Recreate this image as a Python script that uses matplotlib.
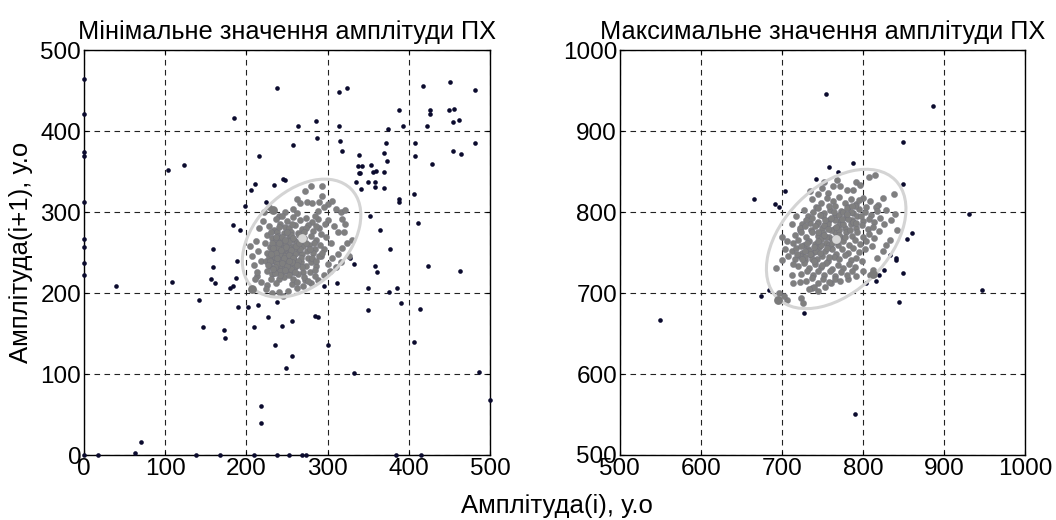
import numpy as np
import matplotlib.pyplot as plt
from matplotlib.patches import Ellipse

plt.rcParams['font.family'] = ['Liberation Sans', 'DejaVu Sans']

# --- мінімальне значення: викиди (темні точки)
min_out = [(0, 465), (0, 422), (0, 375), (0, 369), (0, 313), (0, 267), (0, 257), (0, 237), (0, 222),
           (103, 352), (123, 358), (185, 417), (238, 453), (263, 406), (258, 383), (286, 413), (287, 392),
           (216, 369), (211, 335), (206, 327), (234, 334), (245, 341), (248, 340), (224, 313), (198, 308),
           (183, 284), (192, 278), (159, 254), (314, 449), (324, 454), (314, 406), (315, 388), (318, 376),
           (339, 371), (338, 357), (343, 357), (339, 349), (353, 359), (360, 351), (335, 338), (341, 329),
           (350, 337), (358, 337), (358, 331), (369, 350), (370, 330), (370, 373), (373, 363), (372, 386),
           (375, 403), (388, 427), (388, 317), (388, 313), (393, 407), (408, 385), (408, 369), (406, 323),
           (411, 287), (418, 456), (422, 407), (426, 427), (426, 422), (428, 360), (451, 461), (450, 426),
           (456, 428), (454, 411), (462, 414), (454, 376), (464, 372), (482, 451), (482, 386), (352, 296),
           (364, 278), (377, 255), (328, 243), (332, 236), (340, 348), (356, 350),
           (40, 209), (108, 214), (142, 191), (147, 158), (159, 232), (156, 218), (161, 212), (172, 154),
           (174, 144), (180, 207), (184, 209), (187, 219), (189, 240), (190, 183), (202, 183), (209, 158),
           (214, 185), (227, 170), (238, 189), (244, 159), (256, 165), (235, 136), (256, 122), (249, 107),
           (218, 61), (218, 39), (284, 172), (288, 171), (295, 209), (300, 136), (312, 213), (333, 101),
           (350, 206), (350, 179), (358, 233), (361, 226), (376, 201), (386, 207), (391, 188), (414, 181),
           (407, 140), (424, 233), (463, 228), (487, 102), (500, 68), (63, 3), (70, 16),
           (0, 0), (17, 0), (138, 0), (167, 0), (209, 0), (238, 0), (253, 0), (268, 0), (273, 0),
           (384, 0), (415, 0)]

# --- мінімальне значення: основне скупчення (сірі точки)
min_sparse = [(272, 326), (280, 332), (293, 333), (293, 320), (262, 316), (266, 312), (275, 313),
              (281, 311), (289, 313), (300, 310), (305, 314), (296, 306), (310, 304), (316, 300),
              (322, 303), (318, 292), (288, 301), (258, 304), (247, 300), (240, 296),
              (301, 290), (308, 283), (313, 276), (320, 275), (324, 262), (318, 256), (313, 248),
              (305, 243), (300, 236), (310, 232), (316, 238), (326, 246), (330, 266), (321, 286),
              (298, 270), (304, 262), (296, 255), (292, 246), (303, 228), (295, 222),
              (232, 200), (240, 201), (251, 203), (262, 206), (270, 209), (280, 212), (288, 216),
              (245, 196), (226, 210), (218, 214), (213, 221), (256, 211), (272, 216), (284, 221),
              (224, 205), (207, 246), (210, 235), (205, 258), (212, 265), (216, 280), (220, 289),
              (213, 226), (218, 240), (214, 252), (222, 300), (228, 307), (211, 218)]

min_core = [(236, 292), (244, 296), (250, 289), (258, 294), (266, 290), (273, 293), (281, 288),
            (288, 292), (262, 299), (248, 282), (276, 284), (284, 296),
            (228, 283), (234, 278), (241, 285), (253, 280), (260, 284), (268, 279), (274, 281),
            (282, 277), (290, 280), (297, 285), (238, 276), (263, 274),
            (225, 272), (231, 268), (239, 271), (246, 274), (252, 269), (259, 266), (265, 272),
            (271, 268), (279, 271), (286, 266), (292, 273), (236, 264), (244, 262), (255, 276), (283, 262),
            (223, 262), (229, 257), (235, 259), (242, 256), (249, 261), (256, 258), (262, 263),
            (270, 258), (277, 260), (284, 255), (291, 260), (247, 252), (253, 264), (268, 266), (275, 252),
            (226, 250), (232, 247), (238, 252), (245, 247), (251, 250), (257, 245), (263, 251),
            (269, 248), (276, 244), (282, 250), (289, 246), (240, 243), (260, 240), (266, 255), (234, 240),
            (224, 240), (229, 234), (236, 238), (242, 232), (248, 239), (254, 235), (260, 232),
            (267, 238), (273, 233), (280, 238), (286, 234), (250, 228), (257, 226), (244, 225), (270, 226),
            (226, 228), (232, 224), (238, 229), (246, 220), (252, 222), (258, 218), (264, 224),
            (271, 220), (278, 226), (284, 229), (240, 217), (230, 218), (262, 214), (276, 215), (236, 212),
            (235, 245), (243, 266), (251, 243), (259, 256), (267, 244), (274, 262), (281, 244),
            (239, 257), (247, 234), (255, 272), (263, 240), (271, 276), (278, 255), (286, 240),
            (231, 262), (228, 245), (244, 240), (252, 256), (260, 248), (268, 232), (240, 282),
            (256, 286), (286, 283), (293, 250), (242, 248), (248, 246), (238, 236), (254, 250),
            (232, 252), (246, 256), (250, 238), (241, 228), (235, 232), (229, 240), (255, 230),
            (237, 250), (243, 253), (249, 257), (255, 253), (261, 258), (246, 243), (252, 247),
            (258, 243), (240, 262), (233, 256), (230, 249), (238, 244), (244, 237), (250, 233),
            (256, 238), (262, 235), (265, 262), (258, 268), (250, 275), (244, 270), (236, 270),
            (230, 275), (248, 266), (253, 240), (247, 229), (241, 222), (235, 225), (227, 235),
            (233, 230), (260, 226)]

min_center = (268, 268)
min_axis_pts = [(233, 303), (207, 205)]
min_ellipse = dict(w=172, h=114, angle=45)

# --- максимальне значення: викиди
max_out = [(755, 946), (887, 931), (850, 887), (758, 856), (769, 850), (788, 861), (742, 841),
           (704, 826), (666, 816), (691, 810), (697, 807), (849, 835), (931, 798), (861, 774),
           (855, 767), (834, 747), (841, 743), (550, 667), (674, 697), (684, 704), (727, 675),
           (790, 551), (804, 712), (816, 715), (820, 722), (826, 729), (850, 725), (845, 689),
           (947, 704), (841, 741)]

max_sparse = [(815, 846), (807, 844), (792, 838), (796, 834), (763, 832), (772, 833), (780, 828),
              (788, 828), (838, 822), (825, 818), (819, 809), (829, 803), (842, 778), (833, 766),
              (829, 759), (825, 752), (817, 743), (813, 729), (809, 723), (706, 764), (704, 754),
              (708, 746), (693, 731), (700, 741), (712, 723), (714, 712), (722, 714), (724, 694),
              (726, 688), (737, 706), (753, 708), (706, 692), (712, 786), (722, 778), (735, 787),
              (737, 816), (735, 826), (757, 824), (749, 830), (697, 700), (702, 697), (745, 703),
              (760, 712), (781, 718), (792, 721), (800, 727), (768, 840), (752, 838), (744, 822),
              (727, 803), (718, 795), (700, 770), (835, 790), (826, 785), (840, 798)]

max_core = [(748, 812), (756, 818), (763, 814), (770, 819), (778, 812), (785, 816), (791, 810),
            (742, 807), (800, 818), (809, 814), (816, 806),
            (738, 800), (745, 805), (752, 799), (759, 803), (766, 808), (773, 801), (781, 806),
            (788, 799), (795, 804), (802, 800), (810, 797), (817, 801), (732, 796),
            (730, 790), (737, 793), (744, 788), (751, 795), (758, 790), (765, 796), (772, 789),
            (779, 794), (786, 790), (793, 795), (800, 789), (807, 792), (814, 788), (821, 793), (725, 785),
            (722, 780), (729, 783), (736, 778), (743, 785), (750, 781), (757, 786), (764, 779),
            (771, 784), (778, 780), (785, 786), (792, 781), (799, 784), (806, 779), (813, 782), (820, 777),
            (716, 772), (723, 775), (730, 770), (737, 776), (744, 771), (751, 774), (758, 769),
            (765, 775), (772, 770), (779, 776), (786, 771), (793, 775), (800, 770), (807, 773), (814, 768),
            (714, 762), (720, 766), (727, 760), (734, 765), (741, 761), (748, 767), (755, 762),
            (762, 766), (769, 759), (776, 764), (783, 760), (790, 766), (797, 761), (804, 765), (811, 758),
            (712, 752), (718, 756), (725, 750), (732, 755), (739, 751), (746, 757), (753, 752),
            (760, 756), (767, 749), (774, 754), (781, 750), (788, 756), (795, 751), (802, 754),
            (716, 742), (722, 746), (729, 741), (736, 747), (743, 742), (750, 746), (757, 740),
            (764, 745), (771, 742), (778, 747), (785, 741), (792, 744), (799, 740),
            (720, 733), (727, 737), (734, 731), (741, 736), (748, 732), (755, 737), (762, 730),
            (769, 735), (776, 731), (783, 736), (790, 732), (714, 736),
            (724, 724), (731, 728), (738, 722), (745, 727), (752, 723), (759, 728), (766, 721),
            (773, 726), (780, 723), (787, 727),
            (730, 715), (737, 719), (744, 713), (751, 717), (758, 714), (765, 718), (772, 715),
            (740, 708), (733, 705),
            (755, 770), (760, 778), (748, 760), (765, 790), (770, 797), (742, 752), (737, 742),
            (775, 800), (780, 805), (752, 784), (745, 775), (762, 755), (768, 765), (758, 745),
            (750, 735), (785, 800), (790, 808), (795, 815), (733, 752), (728, 745),
            (745, 765), (752, 772), (758, 760), (765, 768), (770, 778), (776, 785), (782, 792),
            (788, 788), (740, 757), (735, 748), (729, 752), (725, 742), (740, 740), (747, 750),
            (756, 756), (762, 762), (770, 772), (778, 770), (784, 778), (792, 787), (798, 796),
            (804, 806), (760, 793), (753, 791), (747, 797), (741, 783), (731, 762), (724, 758),
            (719, 748), (757, 779), (767, 782), (774, 792), (780, 798), (786, 808), (764, 800),
            (758, 808)]

max_center = (767, 767)
max_axis_pts = [(695, 692), (812, 724)]
max_ellipse = dict(w=206, h=130, angle=45)

titles = ['Мінімальне значення амплітуди ПХ', 'Максимальне значення амплітуди ПХ']
limits = [(0, 500), (500, 1000)]

fig = plt.figure(figsize=(10.56, 5.2), dpi=100)
ax1 = fig.add_axes([0.0795, 0.125, 0.3845, 0.778])
ax2 = fig.add_axes([0.587, 0.125, 0.3836, 0.778])

panels = [(ax1, min_out, min_sparse + min_core, min_center, min_axis_pts, min_ellipse),
          (ax2, max_out, max_sparse + max_core, max_center, max_axis_pts, max_ellipse)]

for k, (ax, out, gray, c, axp, el) in enumerate(panels):
    lo, hi = limits[k]
    o = np.array(out)
    g = np.array(gray)
    ax.scatter(o[:, 0], o[:, 1], s=11, c='#0b0b2e', linewidths=0, zorder=3, clip_on=False)
    ax.scatter(g[:, 0], g[:, 1], s=20, c='#7f7f7f', edgecolors='#6f6f7c', linewidths=0.25, zorder=4)
    ax.add_patch(Ellipse(c, el['w'], el['h'], angle=el['angle'], fill=False,
                         edgecolor='#d4d4d4', lw=2.2, zorder=5))
    p = np.array(axp)
    ax.scatter(p[:, 0], p[:, 1], s=40, c='#7a7a7a', linewidths=0, zorder=6)
    ax.scatter([c[0]], [c[1]], s=40, c='#d6d6d6', linewidths=0, zorder=6)

    ax.set_xlim(lo, hi)
    ax.set_ylim(lo, hi)
    ticks = np.arange(lo, hi + 1, 100)
    ax.set_xticks(ticks)
    ax.set_yticks(ticks)
    ax.grid(True, color='#222222', linestyle=(0, (5, 4)), linewidth=0.8)
    ax.set_axisbelow(True)
    ax.tick_params(direction='in', length=3, width=0.8, labelsize=17.5, pad=2,
                   top=True, right=True)
    for sp in ax.spines.values():
        sp.set_linewidth(1.0)
    ax.set_title(titles[k], fontsize=18.3, pad=8)

fig.text(0.527, 0.027, 'Амплітуда(i), у.о', ha='center', va='center', fontsize=18.5)
fig.text(0.02, 0.515, 'Амплітуда(i+1), у.о', ha='center', va='center', rotation=90, fontsize=18.5)

fig.savefig('out.png', dpi=100)
